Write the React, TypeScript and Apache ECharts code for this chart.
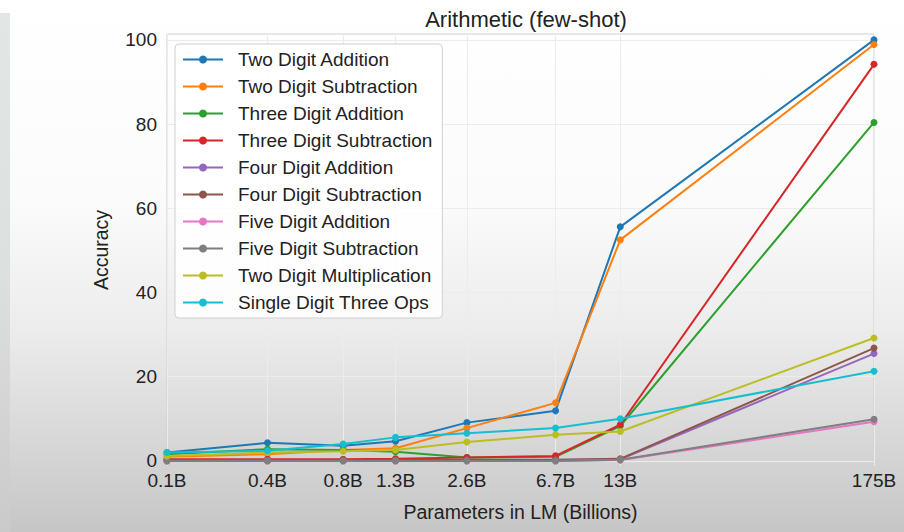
import React, { useEffect, useRef } from "react";
import * as echarts from "echarts";

const sizeLabels = ["0.1B", "0.4B", "0.8B", "1.3B", "2.6B", "6.7B", "13B", "175B"];
const paramsMillions = [125, 350, 760, 1300, 2700, 6700, 13000, 175000];
const yTicks = [0, 20, 40, 60, 80, 100];

const seriesNames = [
  "Two Digit Addition",
  "Two Digit Subtraction",
  "Three Digit Addition",
  "Three Digit Subtraction",
  "Four Digit Addition",
  "Four Digit Subtraction",
  "Five Digit Addition",
  "Five Digit Subtraction",
  "Two Digit Multiplication",
  "Single Digit Three Ops",
];
const seriesColors = [
  "#1f77b4", "#ff7f0e", "#2ca02c", "#d62728", "#9467bd",
  "#8c564b", "#e377c2", "#7f7f7f", "#bcbd22", "#17becf",
];

const twoDigitAddition = [2.0, 4.3, 3.6, 4.7, 9.1, 11.9, 55.6, 100.0];
const twoDigitSubtraction = [1.0, 1.6, 2.6, 3.0, 7.8, 13.8, 52.5, 98.9];
const threeDigitAddition = [1.6, 2.8, 2.6, 2.2, 0.8, 1.0, 8.3, 80.4];
const threeDigitSubtraction = [0.4, 0.4, 0.4, 0.5, 0.8, 1.2, 8.6, 94.2];
const fourDigitAddition = [0.1, 0.1, 0.1, 0.1, 0.2, 0.2, 0.4, 25.5];
const fourDigitSubtraction = [0.1, 0.1, 0.2, 0.2, 0.3, 0.3, 0.5, 26.8];
const fiveDigitAddition = [0.0, 0.0, 0.0, 0.0, 0.0, 0.0, 0.2, 9.3];
const fiveDigitSubtraction = [0.0, 0.0, 0.0, 0.0, 0.0, 0.0, 0.3, 9.9];
const twoDigitMultiplication = [1.2, 2.0, 2.3, 2.6, 4.5, 6.2, 7.0, 29.2];
const singleDigitThreeOps = [2.0, 2.4, 4.0, 5.6, 6.6, 7.8, 10.0, 21.3];

const allValues = [
  twoDigitAddition, twoDigitSubtraction, threeDigitAddition, threeDigitSubtraction,
  fourDigitAddition, fourDigitSubtraction, fiveDigitAddition, fiveDigitSubtraction,
  twoDigitMultiplication, singleDigitThreeOps,
];

const FONT = "'Liberation Sans', Arial, sans-serif";

function labelFor(v: number): string {
  let best = 0;
  let bestD = Infinity;
  paramsMillions.forEach((p, i) => {
    const d = Math.abs(Math.log(p) - Math.log(v));
    if (d < bestD) { bestD = d; best = i; }
  });
  return bestD < 0.01 ? sizeLabels[best] : "";
}

export default function App() {
  const ref = useRef<HTMLDivElement>(null);
  useEffect(() => {
    if (!ref.current) return;
    const chart = echarts.init(ref.current, undefined, { renderer: "svg" });
    chart.setOption({
      animation: false,
      backgroundColor: "transparent",
      title: {
        text: "Arithmetic (few-shot)",
        left: 521,
        textAlign: "center",
        top: 3,
        textStyle: { fontFamily: FONT, fontSize: 22, fontWeight: "normal", color: "#222" },
      },
      legend: {
        orient: "vertical",
        left: 175,
        top: 44,
        itemWidth: 40,
        itemHeight: 10,
        itemGap: 8,
        padding: [6, 10, 6, 7],
        backgroundColor: "rgba(255,255,255,0.85)",
        borderColor: "#d0d0d0",
        borderWidth: 1,
        borderRadius: 4,
        textStyle: {
          fontFamily: FONT, fontSize: 19, color: "#222",
          padding: [0, 0, 0, 10], height: 17, lineHeight: 17,
        },
        data: seriesNames,
      },
      grid: { left: 167, right: 30, top: 34, bottom: 66, show: true, borderColor: "#cfcfcf", borderWidth: 1, backgroundColor: "transparent" },
      xAxis: {
        type: "log",
        min: paramsMillions[0],
        max: paramsMillions[paramsMillions.length - 1],
        name: "Parameters in LM (Billions)",
        nameLocation: "middle",
        nameGap: 36,
        nameTextStyle: { fontFamily: FONT, fontSize: 19.5, color: "#222" },
        axisLine: { show: false },
        axisTick: { show: false, customValues: paramsMillions },
        axisLabel: {
          customValues: paramsMillions,
          formatter: (v: number) => labelFor(v),
          fontFamily: FONT, fontSize: 19, color: "#222", margin: 5,
        },
        splitLine: { show: true, lineStyle: { color: "#ececec", width: 1 } },
      },
      yAxis: {
        type: "value",
        min: -1.2,
        max: 101.4,
        name: "Accuracy",
        nameLocation: "middle",
        nameGap: 56,
        nameRotate: 90,
        nameTextStyle: { fontFamily: FONT, fontSize: 19.5, color: "#222" },
        axisLine: { show: false },
        axisTick: { show: false, customValues: yTicks },
        axisLabel: {
          customValues: yTicks,
          fontFamily: FONT, fontSize: 19, color: "#222", margin: 10,
        },
        splitLine: { show: true, lineStyle: { color: "#ececec", width: 1 } },
      },
      series: seriesNames.map((name, i) => ({
        name,
        type: "line",
        data: allValues[i].map((v, j) => [paramsMillions[j], v]),
        color: seriesColors[i],
        symbol: "circle",
        symbolSize: 7,
        showSymbol: true,
        lineStyle: { width: 2, color: seriesColors[i] },
        itemStyle: { color: seriesColors[i] },
        z: 2 + i,
      })),
    });
    return () => chart.dispose();
  }, []);

  return (
    <div
      style={{
        position: "fixed", left: 0, top: 0, width: 904, height: 532, overflow: "hidden",
        background: "linear-gradient(to bottom, #ffffff 0%, #fbfbfb 38%, #ececec 62%, #d8d8d8 82%, #c6c6c6 100%)",
      }}
    >
      <div
        style={{
          position: "absolute", left: 0, top: 13, width: 10, height: 519,
          background: "linear-gradient(to bottom, #e3e7e3 0%, #dde1dd 50%, #c9cbc9 100%)",
        }}
      />
      <div ref={ref} style={{ position: "absolute", left: 0, top: 0, width: 904, height: 532 }} />
    </div>
  );
}
